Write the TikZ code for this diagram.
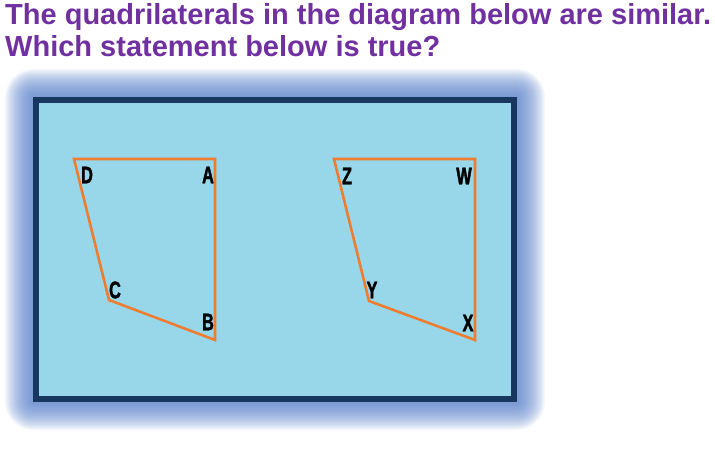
\documentclass[tikz,border=0pt]{standalone}
\usepackage{fontspec}
\setmainfont{Liberation Sans}
\newfontfamily\lblfont[FakeStretch=0.68, BoldFeatures={FakeBold=1.6}]{Liberation Sans}
\definecolor{titlepurple}{RGB}{112,48,160}
\definecolor{boxfill}{RGB}{152,215,234}
\definecolor{boxborder}{RGB}{23,55,94}
\definecolor{glowblue}{RGB}{85,125,200}
\definecolor{quadorange}{RGB}{237,125,49}
\tikzset{
  title/.style={anchor=base west, inner sep=0pt, text=titlepurple, font=\fontsize{29}{32}\selectfont\bfseries},
  vlabel/.style={inner sep=0pt, font=\lblfont\fontsize{24}{24}\selectfont\bfseries},
  quad/.style={draw=quadorange, line width=2.6pt, line join=miter},
}
\begin{document}
\begin{tikzpicture}[x=1pt,y=-1pt]
\useasboundingbox (0,0) rectangle (715,468);
% glow
\foreach \i in {1,...,28}{
  \fill[glowblue, fill opacity=0.05, rounded corners=\i pt] (33-\i,97-\i) rectangle (517+\i,402+\i);
}
% box
\fill[boxfill] (33,97) rectangle (517,402);
\draw[boxborder, line width=6pt] (36,100) rectangle (514,399);
% title
\node[title] (t1) at (5,25) {The quadrilaterals in the diagram below are similar.};
\node[title] (t2) at (5,57) {Which statement below is true?};
% quad 1
\coordinate (D) at (74,159);
\coordinate (A) at (215,159);
\coordinate (B) at (215,340);
\coordinate (C) at (109,300);
\draw[quad] (D) -- (A) -- (B) -- (C) -- cycle;
\node[vlabel] (lD) at (87,175) {D};
\node[vlabel] (lA) at (208,175) {A};
\node[vlabel] (lC) at (115,290) {C};
\node[vlabel] (lB) at (208,322) {B};
% quad 2
\coordinate (Z) at (334,159);
\coordinate (W) at (475,159);
\coordinate (X) at (475,340);
\coordinate (Y) at (369,301);
\draw[quad] (Z) -- (W) -- (X) -- (Y) -- cycle;
\node[vlabel] (lZ) at (347,176) {Z};
\node[vlabel] (lW) at (464,176) {W};
\node[vlabel] (lY) at (372,290) {Y};
\node[vlabel] (lX) at (468,323) {X};
\end{tikzpicture}
\end{document}
